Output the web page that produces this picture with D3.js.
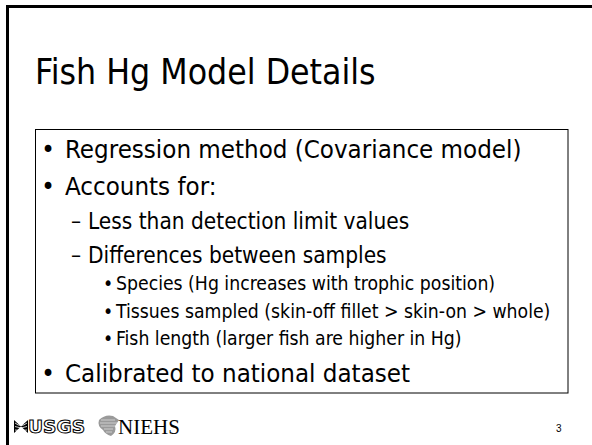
<!DOCTYPE html>
<html>
<head>
<meta charset="utf-8">
<script src="https://cdn.jsdelivr.net/npm/d3@7"></script>
<style>
  body { margin: 0; background: #fff; }
  text { font-family: "DejaVu Sans Condensed", "DejaVu Sans", sans-serif; fill: #000; }
</style>
</head>
<body>
<svg id="slide"></svg>
<script>
const slideWidth = 592;
const slideHeight = 445;

// slide content
const titleText = "Fish Hg Model Details";
const bulletTexts = [
  "Regression method (Covariance model)",
  "Accounts for:",
  "Less than detection limit values",
  "Differences between samples",
  "Species (Hg increases with trophic position)",
  "Tissues sampled (skin-off fillet > skin-on > whole)",
  "Fish length (larger fish are higher in Hg)",
  "Calibrated to national dataset"
];
const bulletLevels = [1, 1, 2, 2, 3, 3, 3, 1];
const levelNames = [1, 2, 3];
const pageNumber = "3";

// per level styles (pt sizes of the slide master, 592px slide)
const ptToPx = 592 / 720;
const fontSize = d3.scaleOrdinal().domain(levelNames).range([32, 28, 24].map(p => p * ptToPx * 0.975));
const markerFor = d3.scaleOrdinal().domain(levelNames).range(["•", "–", "•"]);
const markerX = d3.scaleOrdinal().domain(levelNames).range([48, 71, 108]);
const markerAnchor = d3.scaleOrdinal().domain(levelNames).range(["middle", "start", "middle"]);
const textX = d3.scaleOrdinal().domain(levelNames).range([65, 88, 116]);
const lineStep = d3.scaleOrdinal().domain(levelNames).range([36.5, 34, 27.5]);

const svg = d3.select("#slide")
  .attr("width", slideWidth)
  .attr("height", slideHeight);

svg.append("rect")
  .attr("width", slideWidth)
  .attr("height", slideHeight)
  .attr("fill", "#fff");

// outer frame (top + left only)
svg.append("path")
  .attr("d", `M7.5,${slideHeight} V6.5 H${slideWidth}`)
  .attr("fill", "none")
  .attr("stroke", "#000")
  .attr("stroke-width", 3);

// title
svg.append("text")
  .attr("x", 35)
  .attr("y", 84)
  .style("font-size", (44 * ptToPx * 0.975) + "px")
  .text(titleText);

// baselines from cumulative line steps
let y = 158;
const baselines = bulletLevels.map((lvl, i) => {
  if (i > 0) y += lineStep(lvl);
  return y;
});

// text box
svg.append("rect")
  .attr("x", 35.5)
  .attr("y", 129.5)
  .attr("width", 532.5)
  .attr("height", 263.5)
  .attr("fill", "none")
  .attr("stroke", "#000")
  .attr("stroke-width", 1);

const rows = svg.selectAll("g.row")
  .data(bulletTexts.map((t, i) => ({ text: t, level: bulletLevels[i], y: baselines[i] })))
  .enter()
  .append("g")
  .attr("class", "row");

rows.append("text")
  .attr("x", d => markerX(d.level))
  .attr("y", d => d.y)
  .attr("text-anchor", d => markerAnchor(d.level))
  .style("font-size", d => fontSize(d.level) + "px")
  .text(d => markerFor(d.level));

rows.append("text")
  .attr("x", d => textX(d.level))
  .attr("y", d => d.y)
  .style("font-size", d => fontSize(d.level) + "px")
  .text(d => d.text);

// USGS logo
const usgs = svg.append("g").attr("transform", "translate(14,420)");
usgs.append("path")
  .attr("d", "M0,0 L7,6.5 L0,13 Z M14,0 L7,6.5 L14,13 Z")
  .attr("fill", "#000");
usgs.append("path")
  .attr("d", "M1,3 Q7,8 13,3 M1,6.5 Q7,9.5 13,6.5 M1,10 Q7,11 13,10")
  .attr("fill", "none")
  .attr("stroke", "#fff")
  .attr("stroke-width", 0.8);
usgs.append("text")
  .attr("x", 14)
  .attr("y", 13)
  .attr("textLength", 57)
  .attr("lengthAdjust", "spacingAndGlyphs")
  .style("font-family", "'DejaVu Sans', sans-serif")
  .style("font-size", "17px")
  .style("font-weight", "bold")
  .style("fill", "#fff")
  .style("stroke", "#000")
  .style("stroke-width", 1)
  .text("USGS");

// NIEHS logo
const niehs = svg.append("g").attr("transform", "translate(97,414)");
niehs.append("path")
  .attr("d", "M2,6 Q8,0 16,2 L22,6 L18,12 Q20,18 14,22 Q8,20 6,16 Q0,12 2,6 Z")
  .attr("fill", "#9a9a9a");
niehs.append("path")
  .attr("d", "M4,6 H18 M3,9 H20 M4,12 H18 M7,15 H16 M9,18 H15")
  .attr("stroke", "#dcdcdc")
  .attr("stroke-width", 0.8);
niehs.append("text")
  .attr("x", 21)
  .attr("y", 20)
  .style("font-family", "'Liberation Serif', serif")
  .style("font-size", "21px")
  .text("NIEHS");

// page number
svg.append("text")
  .attr("x", 556)
  .attr("y", 432)
  .style("font-size", "10px")
  .style("font-family", "'Liberation Sans', sans-serif")
  .text(pageNumber);
</script>
</body>
</html>
